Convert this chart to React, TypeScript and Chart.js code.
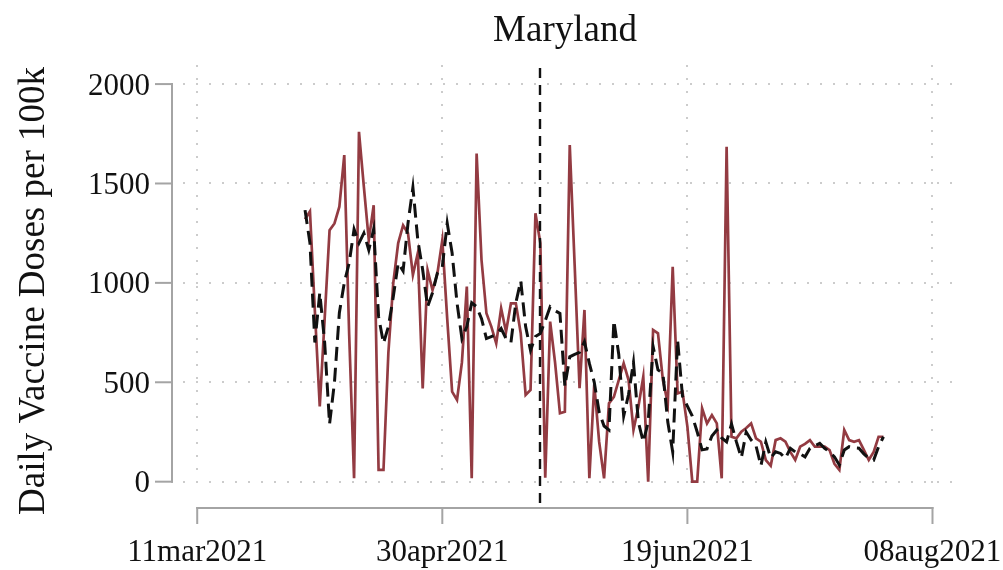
import { useEffect, useRef } from "react";
import { Chart, registerables } from "chart.js";

Chart.register(...registerables);

// Days are counted from 11mar2021 (day 0). Series start on day 22 (02apr2021).
const START_DAY = 22;

const seriesRed = [
  1320, 1360, 860, 378, 820, 1265, 1299, 1383, 1643, 740,
  17, 1760, 1483, 1215, 1391, 59, 59, 650, 1000, 1200,
  1290, 1250, 1040, 1150, 469, 1064, 964, 1048, 1215, 820,
  453, 411, 600, 981, 17, 1651, 1115, 847, 780, 696,
  872, 754, 897, 897, 746, 436, 461, 1350, 1200, 20,
  805, 600, 344, 352, 1693, 1090, 470, 864, 17, 490,
  200, 17, 394, 427, 511, 595, 511, 260, 377, 528,
  0, 763, 746, 511, 394, 1081, 444, 453, 277, 0,
  0, 369, 293, 335, 293, 17, 1685, 226, 218, 251,
  270, 293, 218, 201, 109, 80, 209, 218, 201, 150,
  109, 176, 190, 209, 176, 176, 176, 159, 90, 59,
  260, 209, 201, 209, 160, 109, 150, 226, 226,
];

const seriesBlack = [
  1366, 1200, 700, 950, 700, 290, 500, 850, 1000, 1100,
  1270, 1200, 1250, 1165, 1270, 830, 696, 780, 930, 1100,
  1060, 1300, 1480, 1215, 1065, 880, 950, 1050, 1080, 1300,
  1150, 900, 720, 780, 900, 880, 820, 720, 730, 740,
  770, 720, 700, 900, 1010, 780, 660, 730, 745, 810,
  880, 860, 846, 480, 628, 640, 650, 704, 595, 500,
  350, 280, 260, 810, 640, 330, 440, 600, 300, 200,
  300, 680, 562, 545, 300, 150, 712, 430, 380, 330,
  250, 160, 165, 230, 260, 220, 200, 290, 200, 120,
  250, 210, 180, 80, 200, 120, 150, 142, 117, 168,
  150, 140, 125, 168, 180, 193, 168, 150, 125, 84,
  159, 176, 170, 168, 140, 117, 109, 176, 226,
];

const xTickDays = [0, 50, 100, 150];
const xTickLabels = ["11mar2021", "30apr2021", "19jun2021", "08aug2021"];
const yTicks = [0, 500, 1000, 1500, 2000];
const markerDay = 70;

const TITLE = "Maryland";
const Y_TITLE = "Daily Vaccine Doses per 100k";
const FONT = "'Liberation Serif', 'Times New Roman', serif";

const RED = "#933b42";

const decor = {
  id: "decor",
  beforeDatasetsDraw(chart: any) {
    const { ctx, chartArea: a, scales } = chart;
    const x = scales.x;
    const y = scales.y;
    ctx.save();
    // dotted grid
    ctx.strokeStyle = "#cccccc";
    ctx.lineWidth = 2;
    ctx.setLineDash([2, 11]);
    yTicks.forEach((v) => {
      const py = Math.round(y.getPixelForValue(v));
      ctx.beginPath();
      ctx.moveTo(a.left, py);
      ctx.lineTo(a.right, py);
      ctx.stroke();
    });
    xTickDays.forEach((d) => {
      const px = Math.round(x.getPixelForValue(d));
      ctx.beginPath();
      ctx.moveTo(px, a.top);
      ctx.lineTo(px, a.bottom);
      ctx.stroke();
    });
    ctx.setLineDash([]);

    // axes
    ctx.strokeStyle = "#a4a4a4";
    ctx.lineWidth = 2;
    const ax = a.left - 11;
    const y0 = y.getPixelForValue(yTicks[0]);
    const y1 = y.getPixelForValue(yTicks[yTicks.length - 1]);
    ctx.beginPath();
    ctx.moveTo(ax, y0 + 1);
    ctx.lineTo(ax, y1 - 1);
    ctx.stroke();
    yTicks.forEach((v) => {
      const py = y.getPixelForValue(v);
      ctx.beginPath();
      ctx.moveTo(ax - 17, py);
      ctx.lineTo(ax + 1, py);
      ctx.stroke();
    });
    const ay = a.bottom + 14;
    const x0 = x.getPixelForValue(xTickDays[0]);
    const x1 = x.getPixelForValue(xTickDays[xTickDays.length - 1]);
    ctx.beginPath();
    ctx.moveTo(x0 - 1, ay);
    ctx.lineTo(x1 + 1, ay);
    ctx.stroke();
    xTickDays.forEach((d) => {
      const px = x.getPixelForValue(d);
      ctx.beginPath();
      ctx.moveTo(px, ay - 1);
      ctx.lineTo(px, ay + 16);
      ctx.stroke();
    });

    // tick labels
    ctx.fillStyle = "#111";
    ctx.font = `31px ${FONT}`;
    ctx.textAlign = "right";
    ctx.textBaseline = "alphabetic";
    yTicks.forEach((v) => {
      ctx.fillText(String(v), ax - 22, y.getPixelForValue(v) + 10.5);
    });
    ctx.textAlign = "center";
    xTickDays.forEach((d, i) => {
      ctx.fillText(xTickLabels[i], x.getPixelForValue(d), 561);
    });

    // title
    ctx.font = `37px ${FONT}`;
    ctx.fillText(TITLE, (a.left + a.right) / 2 - 5, 41);

    // y title
    ctx.save();
    ctx.translate(44, 291);
    ctx.rotate(-Math.PI / 2);
    ctx.fillText(Y_TITLE, 0, 0);
    ctx.restore();

    ctx.restore();
  },
  afterDatasetsDraw(chart: any) {
    const { ctx, chartArea: a, scales } = chart;
    const px = Math.round(scales.x.getPixelForValue(markerDay));
    ctx.save();
    ctx.strokeStyle = "#111";
    ctx.lineWidth = 2.4;
    ctx.setLineDash([10, 7]);
    ctx.beginPath();
    ctx.moveTo(px, a.top + 3);
    ctx.lineTo(px, a.bottom + 14);
    ctx.stroke();
    ctx.restore();
  },
};

export default function App() {
  const ref = useRef<HTMLCanvasElement | null>(null);

  useEffect(() => {
    document.body.style.margin = "0";
    const canvas = ref.current;
    if (!canvas) return;
    const toPoints = (arr: number[]) =>
      arr.map((v, i) => ({ x: START_DAY + i, y: v }));
    const chart = new Chart(canvas, {
      type: "line",
      data: {
        datasets: [
          {
            label: "black",
            data: toPoints(seriesBlack),
            borderColor: "#111111",
            borderWidth: 3,
            borderDash: [14, 7],
            pointRadius: 0,
            tension: 0,
            fill: false,
            order: 0,
          },
          {
            label: "red",
            data: toPoints(seriesRed),
            borderColor: RED,
            borderWidth: 2.7,
            pointRadius: 0,
            tension: 0,
            fill: false,
            order: 1,
          },
        ],
      },
      options: {
        animation: false,
        responsive: false,
        devicePixelRatio: 1,
        layout: { padding: { left: 183, right: 46, top: 65, bottom: 76 } },
        plugins: {
          legend: { display: false },
          tooltip: { enabled: false },
          title: { display: false },
        },
        scales: {
          x: { type: "linear", min: -2.9, max: 155, display: false },
          y: { type: "linear", min: -62, max: 2096, display: false },
        },
      },
      plugins: [decor],
    });
    return () => chart.destroy();
  }, []);

  return (
    <div style={{ width: 1003, height: 570, background: "#fff" }}>
      <canvas ref={ref} width={1003} height={570} style={{ display: "block" }} />
    </div>
  );
}
